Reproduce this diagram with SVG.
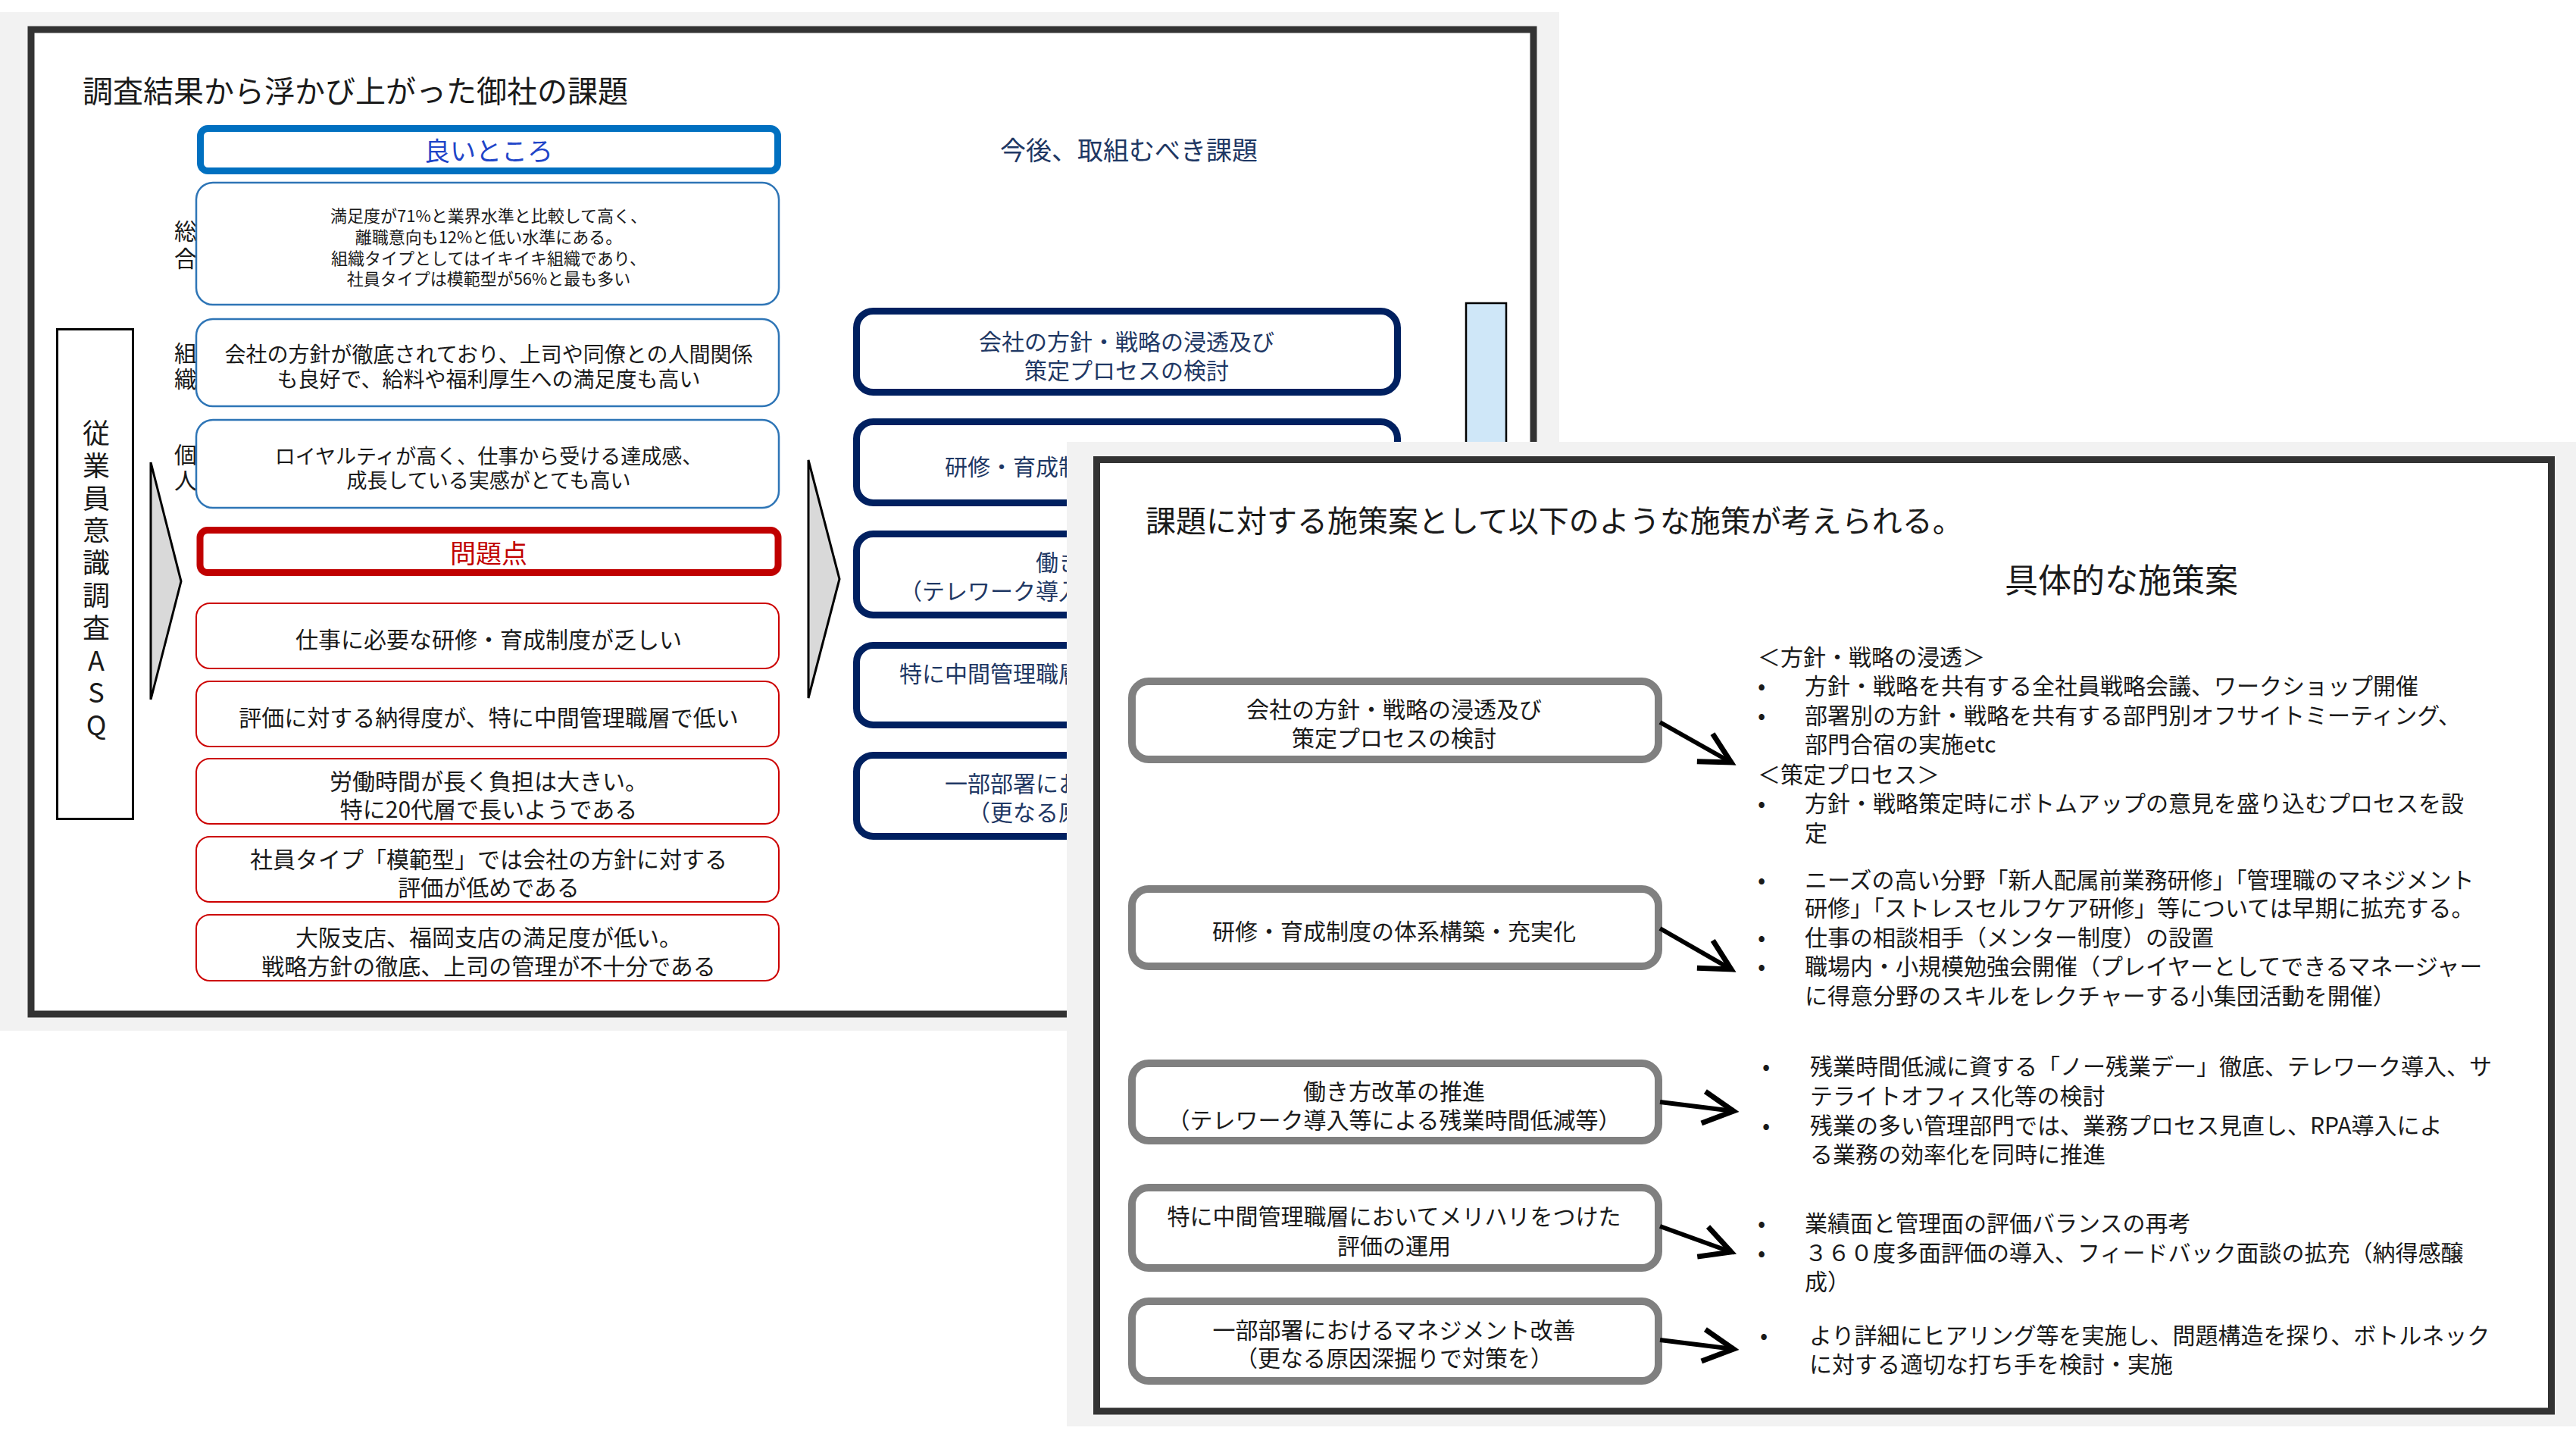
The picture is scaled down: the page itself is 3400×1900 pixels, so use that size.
<svg xmlns="http://www.w3.org/2000/svg" width="3400" height="1900" viewBox="0 0 3400 1900">
<defs>
<marker id="ah" markerUnits="userSpaceOnUse" markerWidth="80" markerHeight="80" viewBox="-60 -40 80 80" refX="0" refY="0" orient="auto" overflow="visible">
<path d="M -40 -21 L 0 0 L -40 21" fill="none" stroke="#000" stroke-width="7" stroke-linejoin="miter" stroke-linecap="butt"/>
</marker>
</defs>
<style>
text{font-family:"Noto Sans CJK JP","Noto Sans",sans-serif;dominant-baseline:central;fill:#1a1a1a}
.c{text-anchor:middle}
.bg{fill:#F2F2F2}
.frame{fill:#fff;stroke:#333;stroke-width:9}
.gb{fill:#fff;stroke:#0070C0;stroke-width:9}
.gbt{fill:#fff;stroke:#2E75B6;stroke-width:2.5}
.rb{fill:#fff;stroke:#C00000;stroke-width:9}
.rbt{fill:#fff;stroke:#CC0000;stroke-width:2}
.nb{fill:#fff;stroke:#002060;stroke-width:9}
.gy{fill:#fff;stroke:#808080;stroke-width:10}
.chev{fill:#D9D9D9;stroke:#000;stroke-width:3;stroke-linejoin:miter}
.s22{font-size:22px}.s27{font-size:27px}.s28{font-size:28px}.s30{font-size:30px}.s34{font-size:34px}.s36{font-size:36px}.s40{font-size:40px}.s44{font-size:44px}
.navy{fill:#1F3864}
.blue{fill:#1F45C8}
.red{fill:#C00000}
.conn{stroke:#000;stroke-width:6;fill:none;marker-end:url(#ah)}
</style>

<!-- Slide 1 -->
<g id="slide1">
<rect class="bg" x="0" y="16" width="2058" height="1344"/>
<rect class="frame" x="41" y="39" width="1983" height="1299"/>
<text x="109" y="118" class="s40">調査結果から浮かび上がった御社の課題</text>

<g id="labels">
<text x="245" y="303" class="c s30">総</text>
<text x="245" y="339" class="c s30">合</text>
<text x="245" y="464" class="c s30">組</text>
<text x="245" y="498" class="c s30">織</text>
<text x="245" y="598" class="c s30">個</text>
<text x="245" y="632" class="c s30">人</text>
</g>

<g id="asq">
<rect x="75.5" y="434.5" width="100" height="646" fill="#fff" stroke="#000" stroke-width="3"/>
<text class="c s36"><tspan x="127" y="569">従</tspan><tspan x="127" y="612">業</tspan><tspan x="127" y="655">員</tspan><tspan x="127" y="697">意</tspan><tspan x="127" y="740">識</tspan><tspan x="127" y="783">調</tspan><tspan x="127" y="826">査</tspan><tspan x="127" y="869">A</tspan><tspan x="127" y="911">S</tspan><tspan x="127" y="954">Q</tspan></text>
</g>

<g id="chevron-left"><polygon class="chev" points="199,610 239,767 199,923"/></g>
<g id="chevron-right"><polygon class="chev" points="1067,607 1108,764 1067,921"/></g>

<g id="good-head">
<rect class="gb" x="264.5" y="169.5" width="762" height="56" rx="10"/>
<text x="645" y="197" class="c s34 blue">良いところ</text>
</g>
<g id="good-1">
<rect class="gbt" x="259" y="241" width="769" height="161" rx="22"/>
<text class="c s22"><tspan x="645" y="283">満足度が71%と業界水準と比較して高く、</tspan><tspan x="645" y="311">離職意向も12%と低い水準にある。</tspan><tspan x="645" y="339">組織タイプとしてはイキイキ組織であり、</tspan><tspan x="645" y="366">社員タイプは模範型が56%と最も多い</tspan></text>
</g>
<g id="good-2">
<rect class="gbt" x="259" y="421" width="769" height="115" rx="22"/>
<text class="c s28"><tspan x="645" y="466">会社の方針が徹底されており、上司や同僚との人間関係</tspan><tspan x="645" y="499">も良好で、給料や福利厚生への満足度も高い</tspan></text>
</g>
<g id="good-3">
<rect class="gbt" x="259" y="554" width="769" height="116" rx="22"/>
<text class="c s27"><tspan x="645" y="600">ロイヤルティが高く、仕事から受ける達成感、</tspan><tspan x="645" y="632">成長している実感がとても高い</tspan></text>
</g>

<g id="bad-head">
<rect class="rb" x="264" y="699.5" width="763" height="56" rx="10"/>
<text x="645" y="728" class="c s34 red">問題点</text>
</g>
<g id="bad-1">
<rect class="rbt" x="259" y="796" width="769" height="86" rx="18"/>
<text x="645" y="842" class="c s30">仕事に必要な研修・育成制度が乏しい</text>
</g>
<g id="bad-2">
<rect class="rbt" x="259" y="899" width="769" height="86" rx="18"/>
<text x="645" y="945" class="c s30">評価に対する納得度が、特に中間管理職層で低い</text>
</g>
<g id="bad-3">
<rect class="rbt" x="259" y="1001" width="769" height="86" rx="18"/>
<text class="c s30"><tspan x="645" y="1029">労働時間が長く負担は大きい。</tspan><tspan x="645" y="1066">特に20代層で長いようである</tspan></text>
</g>
<g id="bad-4">
<rect class="rbt" x="259" y="1104" width="769" height="86" rx="18"/>
<text class="c s30"><tspan x="645" y="1132">社員タイプ「模範型」では会社の方針に対する</tspan><tspan x="645" y="1169">評価が低めである</tspan></text>
</g>
<g id="bad-5">
<rect class="rbt" x="259" y="1207" width="769" height="87" rx="18"/>
<text class="c s30"><tspan x="645" y="1235">大阪支店、福岡支店の満足度が低い。</tspan><tspan x="645" y="1273">戦略方針の徹底、上司の管理が不十分である</tspan></text>
</g>

<text x="1490" y="196" class="c s34 navy">今後、取組むべき課題</text>

<g id="task-1">
<rect class="nb" x="1130.5" y="410.5" width="714" height="107" rx="22"/>
<text class="c s30 navy"><tspan x="1487" y="449">会社の方針・戦略の浸透及び</tspan><tspan x="1487" y="487">策定プロセスの検討</tspan></text>
</g>
<g id="task-2">
<rect class="nb" x="1130.5" y="556.5" width="714" height="107" rx="22"/>
<text x="1247" y="614" class="s30 navy">研修・育成制</text>
</g>
<g id="task-3">
<rect class="nb" x="1130.5" y="704.5" width="714" height="107" rx="22"/>
<text x="1367" y="740" class="s30 navy">働き</text>
<text x="1187" y="778" class="s30 navy">（テレワーク導入</text>
</g>
<g id="task-4">
<rect class="nb" x="1130.5" y="851.5" width="714" height="105" rx="22"/>
<text x="1187" y="887" class="s30 navy">特に中間管理職層</text>
</g>
<g id="task-5">
<rect class="nb" x="1130.5" y="996.5" width="714" height="107" rx="22"/>
<text x="1247" y="1032" class="s30 navy">一部部署にお</text>
<text x="1277" y="1070" class="s30 navy">（更なる原</text>
</g>
<g id="bar"><rect x="1935" y="400" width="53" height="300" fill="#CFE7F8" stroke="#000" stroke-width="2.5"/></g>
</g>

<!-- Slide 2 -->
<g id="slide2">
<rect class="bg" x="1408" y="583" width="1992" height="1299"/>
<rect class="frame" x="1447.5" y="606.5" width="1920" height="1255.5"/>
<text x="1512" y="685" class="s40">課題に対する施策案として以下のような施策が考えられる。</text>
<text x="2800" y="763" class="c s44">具体的な施策案</text>

<g id="m1">
<rect class="gy" x="1494" y="899" width="695" height="103" rx="22"/>
<text class="c s30"><tspan x="1840" y="934">会社の方針・戦略の浸透及び</tspan><tspan x="1840" y="972">策定プロセスの検討</tspan></text>
</g>
<g id="m2">
<rect class="gy" x="1494" y="1173" width="695" height="102" rx="22"/>
<text x="1840" y="1227" class="c s30">研修・育成制度の体系構築・充実化</text>
</g>
<g id="m3">
<rect class="gy" x="1494" y="1403" width="695" height="102" rx="22"/>
<text class="c s30"><tspan x="1840" y="1438">働き方改革の推進</tspan><tspan x="1840" y="1476">（テレワーク導入等による残業時間低減等）</tspan></text>
</g>
<g id="m4">
<rect class="gy" x="1494" y="1567" width="695" height="106" rx="22"/>
<text class="c s30"><tspan x="1840" y="1603">特に中間管理職層においてメリハリをつけた</tspan><tspan x="1840" y="1642">評価の運用</tspan></text>
</g>
<g id="m5">
<rect class="gy" x="1494" y="1717" width="695" height="105" rx="22"/>
<text class="c s30"><tspan x="1840" y="1753">一部部署におけるマネジメント改善</tspan><tspan x="1840" y="1790">（更なる原因深掘りで対策を）</tspan></text>
</g>

<g id="connectors">
<line class="conn" x1="2191" y1="953" x2="2285" y2="1006"/>
<line class="conn" x1="2191" y1="1225" x2="2285" y2="1279"/>
<line class="conn" x1="2191" y1="1454" x2="2288" y2="1466"/>
<line class="conn" x1="2191" y1="1618" x2="2285" y2="1652"/>
<line class="conn" x1="2191" y1="1768" x2="2288" y2="1780"/>
</g>

<g id="d1">
<text x="2320" y="865" class="s30">＜方針・戦略の浸透＞</text>
<text x="2325" y="903" class="c s30">•</text><text x="2382" y="903" class="s30">方針・戦略を共有する全社員戦略会議、ワークショップ開催</text>
<text x="2325" y="942" class="c s30">•</text><text x="2382" y="942" class="s30">部署別の方針・戦略を共有する部門別オフサイトミーティング、</text>
<text x="2382" y="980" class="s30">部門合宿の実施etc</text>
<text x="2320" y="1020" class="s30">＜策定プロセス＞</text>
<text x="2325" y="1058" class="c s30">•</text><text x="2382" y="1058" class="s30">方針・戦略策定時にボトムアップの意見を盛り込むプロセスを設</text>
<text x="2382" y="1097" class="s30">定</text>
</g>
<g id="d2">
<text x="2325" y="1159" class="c s30">•</text><text x="2382" y="1159" class="s30">ニーズの高い分野「新人配属前業務研修」「管理職のマネジメント</text>
<text x="2382" y="1196" class="s30">研修」「ストレスセルフケア研修」等については早期に拡充する。</text>
<text x="2325" y="1235" class="c s30">•</text><text x="2382" y="1235" class="s30">仕事の相談相手（メンター制度）の設置</text>
<text x="2325" y="1273" class="c s30">•</text><text x="2382" y="1273" class="s30">職場内・小規模勉強会開催（プレイヤーとしてできるマネージャー</text>
<text x="2382" y="1312" class="s30">に得意分野のスキルをレクチャーする小集団活動を開催）</text>
</g>
<g id="d3">
<text x="2331" y="1405" class="c s30">•</text><text x="2389" y="1405" class="s30">残業時間低減に資する「ノー残業デー」徹底、テレワーク導入、サ</text>
<text x="2389" y="1444" class="s30">テライトオフィス化等の検討</text>
<text x="2331" y="1483" class="c s30">•</text><text x="2389" y="1483" class="s30">残業の多い管理部門では、業務プロセス見直し、RPA導入によ</text>
<text x="2389" y="1521" class="s30">る業務の効率化を同時に推進</text>
</g>
<g id="d4">
<text x="2325" y="1612" class="c s30">•</text><text x="2382" y="1612" class="s30">業績面と管理面の評価バランスの再考</text>
<text x="2325" y="1651" class="c s30">•</text><text x="2382" y="1651" class="s30">３６０度多面評価の導入、フィードバック面談の拡充（納得感醸</text>
<text x="2382" y="1689" class="s30">成）</text>
</g>
<g id="d5">
<text x="2328" y="1760" class="c s30">•</text><text x="2388" y="1760" class="s30">より詳細にヒアリング等を実施し、問題構造を探り、ボトルネック</text>
<text x="2388" y="1798" class="s30">に対する適切な打ち手を検討・実施</text>
</g>
</g>
</svg>
